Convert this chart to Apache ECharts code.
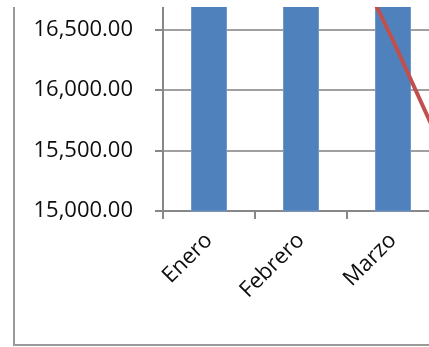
<!DOCTYPE html>
<html>
<head>
<meta charset="utf-8">
<script src="https://cdn.jsdelivr.net/npm/echarts@6/dist/echarts.min.js"></script>
<style>
html,body{margin:0;padding:0;background:#fff;width:429px;height:347px;overflow:hidden;}
#wrap{position:absolute;left:0;top:7px;width:429px;height:340px;overflow:hidden;}
#chart{position:absolute;left:0;top:-60px;width:429px;height:400px;}
</style>
</head>
<body>
<div id="wrap"><div id="chart"></div></div>
<script>
const categories = ['Enero', 'Febrero', 'Marzo', 'Abril'];
const barValues = [17500, 17500, 17500, 17500];
const lineValues = [18400, 17980, 16410, 14740];
const yTicks = { min: 15000, max: 17000, interval: 500 };

const chart = echarts.init(document.getElementById('chart'), null, { renderer: 'canvas' });
const font = '"Open Sans", sans-serif';
chart.setOption({
  animation: false,
  grid: { left: 163, top: 22, width: 368, height: 242, containLabel: false, outerBoundsMode: 'none' },
  graphic: [{
    type: 'rect',
    shape: { x: 14, y: -20, width: 1000, height: 418 },
    style: { fill: 'none', stroke: '#9a9a9a', lineWidth: 2 },
    z: 0
  }],
  xAxis: {
    type: 'category',
    data: categories,
    boundaryGap: true,
    axisLine: { lineStyle: { color: '#878787', width: 2 } },
    axisTick: { show: true, length: 8, alignWithLabel: false, lineStyle: { color: '#878787', width: 2 } },
    axisLabel: { rotate: 45, interval: 0, margin: 26, fontSize: 22, fontFamily: font, color: '#0d0d0d' },
    splitLine: { show: false }
  },
  yAxis: {
    type: 'value',
    min: yTicks.min, max: yTicks.max, interval: yTicks.interval,
    axisLine: { show: true, lineStyle: { color: '#878787', width: 2 } },
    axisTick: { show: true, length: 8, lineStyle: { color: '#878787', width: 2 } },
    axisLabel: {
      margin: 30, fontSize: 22, fontFamily: font, color: '#0d0d0d',
      formatter: v => v.toLocaleString('en-US', { minimumFractionDigits: 2, maximumFractionDigits: 2 })
    },
    splitLine: { show: true, lineStyle: { color: '#a0a0a0', width: 2 } }
  },
  series: [{
    type: 'bar',
    data: barValues,
    barWidth: 36,
    itemStyle: { color: '#4F81BD', borderColor: '#7398c8', borderWidth: 1 },
    z: 2
  }, {
    type: 'line',
    data: lineValues,
    symbol: 'none',
    clip: true,
    lineStyle: { color: '#C0504D', width: 4 },
    z: 3
  }]
});
</script>
</body>
</html>
